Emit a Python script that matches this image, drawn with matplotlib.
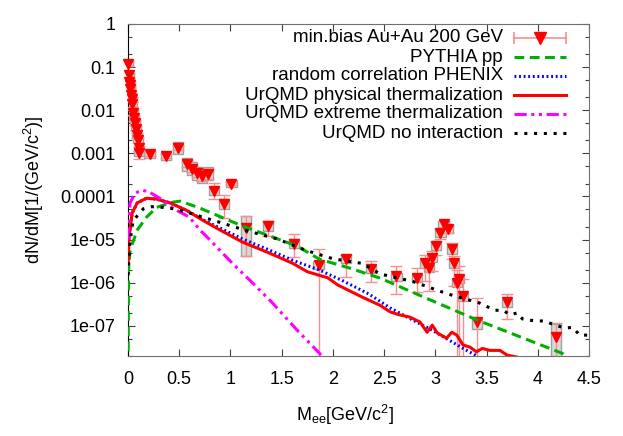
import numpy as np
import matplotlib
matplotlib.use('Agg')
import matplotlib.pyplot as plt
from matplotlib.patches import Rectangle
from matplotlib.ticker import FixedLocator, NullFormatter

plt.rc('font', family='Liberation Sans', size=13)
plt.rc('mathtext', fontset='custom', rm='Liberation Sans', it='Liberation Sans:italic')

# PHENIX min.bias Au+Au 200 GeV data (triangles)
m_data = [0.0, 0.005, 0.01, 0.015, 0.02, 0.03, 0.035, 0.04, 0.05, 0.06, 0.07, 0.08, 0.09, 0.10, 0.105, 0.11,
          0.21, 0.37, 0.49, 0.575, 0.625, 0.67, 0.72, 0.78, 0.84, 0.94, 1.01, 1.15, 1.37, 1.62, 1.86,
          2.13, 2.37, 2.62, 2.82, 2.90, 2.94, 2.97, 3.01, 3.05, 3.08, 3.12, 3.16, 3.18, 3.21, 3.23,
          3.27, 3.41, 3.70, 4.18]
y_data = [0.12, 0.065, 0.045, 0.038, 0.031, 0.022, 0.018, 0.014, 0.0087, 0.0065, 0.0051, 0.0037, 0.0026, 0.0020, 0.0013, 0.0010,
          9.8e-4, 8.8e-4, 1.35e-3, 5.7e-4, 4.4e-4, 3.5e-4, 3.0e-4, 3.4e-4, 1.36e-4, 6.8e-5, 2.0e-4, 1.9e-5, 2.1e-5, 8.1e-6, 2.6e-6,
          3.6e-6, 2.1e-6, 1.4e-6, 1.3e-6, 2.8e-6, 2.2e-6, 3.8e-6, 7.2e-6, 1.45e-5, 2.3e-5, 1.8e-5, 5.9e-6, 2.8e-6, 1.0e-6, 1.25e-6,
          4.8e-7, 1.2e-7, 3.5e-7, 5.4e-8]
# statistical errors as factors (upper / lower edge relative to value)
stat_up = [1.15] * 16 + [1.1, 1.1, 1.1, 1.15, 1.15, 1.2, 1.3, 1.3, 1.5, 1.6, 1.1, 1.9, 1.3, 1.7, 2.3,
                         1.24, 1.5, 1.7, 1.7, 1.6, 1.6, 1.4, 1.3, 1.2, 1.2, 1.2, 1.4, 1.5, 2.0, 2.0,
                         2.5, 3.6, 1.6, 2.2]
stat_dn = [0.87] * 15 + [0.75] + [0.9, 0.9, 0.9, 0.85, 0.85, 0.8, 0.75, 0.75, 0.65, 0.47, 0.9, 0.22, 0.59, 0.5, 0.0,
                                 0.38, 0.5, 0.4, 0.47, 0.4, 0.3, 0.5, 0.6, 0.7, 0.8, 0.8, 0.6, 0.3, 0.0, 0.0,
                                 0.0, 0.0, 0.42, 0.0]
# systematic errors as factors
sys_up = [1.15] * 16 + [1.2, 1.25, 1.35, 1.4, 1.4, 1.4, 1.4, 1.4, 1.2, 1.3, 1.2, 1.9, 1.3, 1.25, 1.2,
                        1.2, 1.2, 1.2, 1.2, 1.2, 1.2, 1.2, 1.2, 1.2, 1.2, 1.2, 1.2, 1.2, 1.2, 1.2,
                        1.2, 1.3, 1.2, 2.0]
sys_dn = [0.87] * 16 + [0.8, 0.8, 0.73, 0.7, 0.7, 0.7, 0.7, 0.7, 0.8, 0.75, 0.85, 0.22, 0.75, 0.8, 0.8,
                        0.8, 0.8, 0.8, 0.8, 0.8, 0.8, 0.8, 0.8, 0.8, 0.8, 0.8, 0.8, 0.8, 0.8, 0.8,
                        0.8, 0.7, 0.8, 0.3]

# PYTHIA pp
pythia_m = [0.0, 0.003, 0.005, 0.02, 0.09, 0.18, 0.28, 0.44, 0.51, 0.7, 1.12, 1.36, 1.65, 1.87, 2.16, 2.46,
            2.95, 3.41, 4.24, 4.3]
pythia_y = [5e-9, 1e-7, 1.96e-6, 5.7e-6, 1.66e-5, 3.3e-5, 5.6e-5, 7.4e-5, 7.8e-5, 5.4e-5, 2.05e-5, 1.27e-5,
            7.1e-6, 3.5e-6, 2.2e-6, 1.28e-6, 4.0e-7, 1.36e-7, 2.3e-8, 1.8e-8]

# random correlation PHENIX
rand_m = [0.0, 0.01, 0.04, 0.09, 0.18, 0.28, 0.41, 0.57, 0.73, 0.9, 1.12, 1.36, 1.61, 1.87, 2.1, 2.35,
          2.56, 2.78, 2.95, 3.12, 3.27, 3.39, 3.45]
rand_y = [3e-6, 1.1e-5, 4.1e-5, 7.1e-5, 9.1e-5, 8.7e-5, 7.1e-5, 4.8e-5, 2.9e-5, 1.85e-5, 1.03e-5, 6.0e-6,
          3.3e-6, 1.96e-6, 1.1e-6, 5.5e-7, 2.6e-7, 1.36e-7, 8.4e-8, 4.9e-8, 3.0e-8, 2.1e-8, 1.6e-8]

# UrQMD physical thermalization
phys_m = [0.0, 0.01, 0.04, 0.09, 0.18, 0.28, 0.41, 0.57, 0.73, 0.9, 1.12, 1.36, 1.61, 1.75, 1.95, 2.05,
          2.29, 2.46, 2.56, 2.65, 2.75, 2.85, 2.92, 2.97, 3.02, 3.11, 3.16, 3.21, 3.27, 3.34, 3.40, 3.46,
          3.53, 3.63, 3.70, 3.79]
phys_y = [3e-6, 1.1e-5, 4.1e-5, 7.1e-5, 9.1e-5, 8.7e-5, 7.1e-5, 4.8e-5, 2.8e-5, 1.66e-5, 8.7e-6, 5.1e-6,
          2.8e-6, 1.8e-6, 1.3e-6, 8.8e-7, 4.6e-7, 3.0e-7, 2.1e-7, 1.8e-7, 1.6e-7, 1.23e-7, 7.1e-8, 1.04e-7,
          6.8e-8, 5.2e-8, 7.1e-8, 6.1e-8, 3.6e-8, 3.2e-8, 2.5e-8, 3.0e-8, 2.7e-8, 2.7e-8, 2.1e-8, 1.9e-8]

# UrQMD extreme thermalization
extr_m = [0.0, 0.02, 0.07, 0.14, 0.21, 0.31, 0.44, 0.6, 0.7, 0.8, 1.02, 1.22, 1.41, 1.65, 1.87, 1.9]
extr_y = [1e-5, 7.1e-5, 1.2e-4, 1.4e-4, 1.26e-4, 9.1e-5, 5.3e-5, 3.3e-5, 1.7e-5, 9.8e-6, 2.8e-6, 9.7e-7,
          3.4e-7, 8.0e-8, 2.3e-8, 1.8e-8]

# UrQMD no interaction
free_m = [0.0, 0.01, 0.02, 0.05, 0.15, 0.23, 0.39, 0.49, 0.62, 0.77, 0.9, 1.16, 1.45, 1.74, 2.0, 2.29,
          2.46, 2.78, 3.11, 3.43, 3.58, 3.66, 3.73, 3.80, 3.85, 3.92, 4.0, 4.07, 4.12, 4.26, 4.34, 4.41, 4.5]
free_y = [1.5e-6, 3.8e-6, 9.5e-6, 2.75e-5, 5.2e-5, 5.8e-5, 5.5e-5, 4.9e-5, 4.0e-5, 3.1e-5, 2.5e-5, 1.6e-5,
          1.05e-5, 5.6e-6, 3.6e-6, 2.8e-6, 1.6e-6, 1.07e-6, 5.6e-7, 3.4e-7, 2.3e-7, 2.3e-7, 1.8e-7, 2.0e-7,
          1.45e-7, 1.35e-7, 1.3e-7, 1.3e-7, 1.15e-7, 8.9e-8, 9.2e-8, 6.1e-8, 6.1e-8]

labels = ['min.bias Au+Au 200 GeV', 'PYTHIA pp', 'random correlation PHENIX',
          'UrQMD physical thermalization', 'UrQMD extreme thermalization', 'UrQMD no interaction']

x_ticks = [0, 0.5, 1, 1.5, 2, 2.5, 3, 3.5, 4, 4.5]
x_ticklabels = ['0', '0.5', '1', '1.5', '2', '2.5', '3', '3.5', '4', '4.5']
y_ticks = [1, 0.1, 0.01, 0.001, 1e-4, 1e-5, 1e-6, 1e-7]
y_ticklabels = ['1', '0.1', '0.01', '0.001', '0.0001', '1e-05', '1e-06', '1e-07']

W, H = 623, 436
fig = plt.figure(figsize=(W / 100, H / 100), dpi=100)
ax = fig.add_axes([128 / W, 1 - 356 / H, (589 - 128) / W, (356 - 24) / H])
ax.set_yscale('log')

m = np.array(m_data)
y = np.array(y_data)
box_w = 0.1
for mi, yi, su, sd in zip(m, y, sys_up, sys_dn):
    ax.add_patch(Rectangle((mi - box_w / 2, yi * sd), box_w, yi * (su - sd),
                           facecolor='#d8d8d8', edgecolor='#a0a0a0', lw=1, zorder=2))
lo = np.maximum(y * np.array(stat_dn), 1e-12)
hi = y * np.array(stat_up)
pink = '#ff8c8c'
ax.errorbar(m, y, yerr=[y - lo, hi - y], fmt='none', ecolor=pink, elinewidth=1, capsize=4, capthick=1, zorder=3)
ax.plot(m, y, 'v', color='red', ms=7.5, mec='red', clip_on=False, zorder=4)

lw = 2.2
styles = [dict(color='#00b000', lw=lw, ls=(0, (3.2, 1.8))),
          dict(color='#0000ff', lw=lw, ls=(0, (0.6, 0.9))),
          dict(color='#ff0000', lw=lw, ls='-'),
          dict(color='#ff00ff', lw=lw, ls=(0, (4, 1.5, 1, 1.5, 1, 1.5))),
          dict(color='black', lw=lw, ls=(0, (1, 2.2)))]
curves = [(pythia_m, pythia_y), (rand_m, rand_y), (phys_m, phys_y), (extr_m, extr_y), (free_m, free_y)]
for k, ((cm, cy), st) in enumerate(zip(curves, styles)):
    ax.plot(cm, cy, zorder=5 + k, **st)

ax.set_xlim(0, 4.5)
ax.set_ylim(2e-8, 1)
ax.xaxis.set_major_locator(FixedLocator(x_ticks))
ax.set_xticklabels(x_ticklabels)
ax.yaxis.set_major_locator(FixedLocator(y_ticks))
ax.set_yticklabels(y_ticklabels)
minor = [f * 10.0 ** e for e in range(-8, 0) for f in (2, 5)]
ax.yaxis.set_minor_locator(FixedLocator(minor))
ax.yaxis.set_minor_formatter(NullFormatter())
ax.tick_params(which='both', direction='in', top=True, right=True, color='#404040')
ax.tick_params(which='major', length=5, width=0.8)
ax.tick_params(which='minor', length=3, width=0.8)
ax.tick_params(axis='x', pad=11)
ax.tick_params(axis='y', pad=9)
for s in ['top', 'right', 'bottom']:
    ax.spines[s].set_color('#707070')
ax.spines['left'].set_color('black')

ax.set_xlabel(r'M$_{\rm ee}$[GeV/c$^2$]', labelpad=6)
ax.xaxis.set_label_coords(0.47, -0.14)
ax.set_ylabel(r'dN/dM[1/(GeV/c$^2$)]', labelpad=10)

# key: right-aligned text, sample to the right of it (gnuplot style)
ax_w, ax_h = 589 - 128, 356 - 24
text_x = (503 - 128) / ax_w
s0, s1 = (514 - 128) / ax_w, (566 - 128) / ax_w
row0, row_step = 1 - (38 - 24) / ax_h, 19 / ax_h
for i, lab in enumerate(labels):
    ry = row0 - i * row_step
    ax.text(text_x, ry, lab, transform=ax.transAxes, ha='right', va='center', fontsize=13.5)
    if i == 0:
        ax.plot([s0, s1], [ry, ry], transform=ax.transAxes, color=pink, lw=1.2, clip_on=False, zorder=10)
        ax.plot([s0, s1], [ry, ry], '|', transform=ax.transAxes, color=pink, ms=8, mew=1.2, clip_on=False, zorder=10)
        ax.plot([(s0 + s1) / 2], [ry], 'v', transform=ax.transAxes, color='red', ms=8, clip_on=False, zorder=11)
    else:
        ax.plot([s0, s1], [ry, ry], transform=ax.transAxes, clip_on=False, zorder=10, **styles[i - 1])

fig.savefig('out.png', dpi=100)
